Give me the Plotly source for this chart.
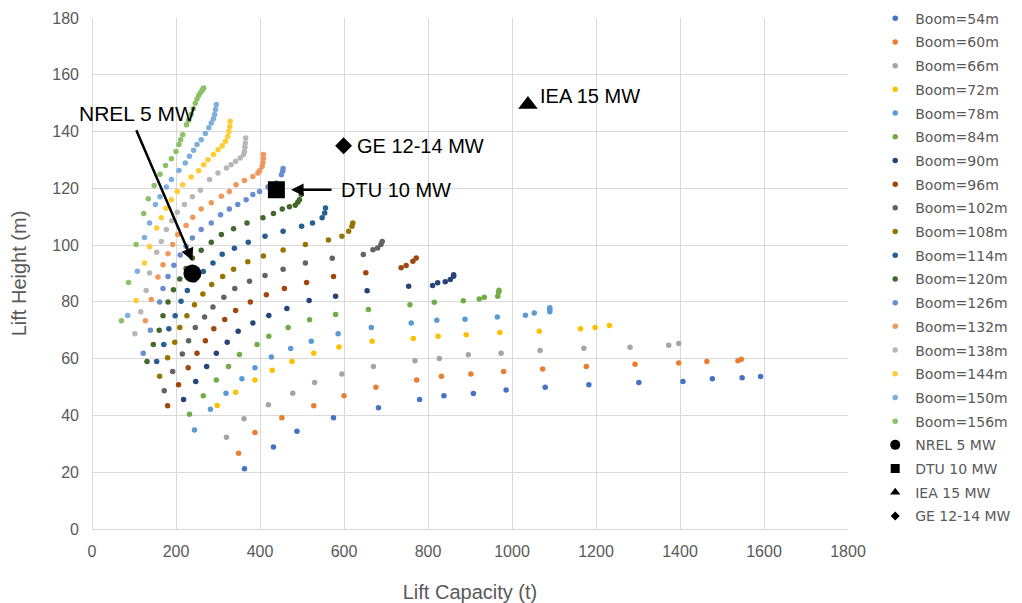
import plotly.graph_objects as go

booms = [54, 60, 66, 72, 78, 84, 90, 96, 102, 108, 114, 120, 126, 132, 138, 144, 150, 156]
colors = ["#4472C4", "#ED7D31", "#A5A5A5", "#FFC000", "#5B9BD5", "#70AD47",
          "#264478", "#9E480E", "#636363", "#997300", "#255E91", "#43682B",
          "#698ED0", "#F1975A", "#B7B7B7", "#FFCD33", "#7CAFDD", "#8CC168"]

cap_54 = [363, 432, 488, 575, 682, 780, 838, 908, 986, 1079, 1183, 1302, 1407, 1477, 1548, 1592]
hgt_54 = [21.2, 28.9, 34.4, 39.2, 42.7, 45.6, 46.9, 47.7, 49.0, 49.9, 50.8, 51.6, 52.0, 52.9, 53.3, 53.7]

cap_60 = [349, 388, 452, 528, 600, 676, 773, 832, 902, 980, 1073, 1177, 1293, 1397, 1464, 1538, 1546]
hgt_60 = [26.7, 34.0, 39.2, 43.4, 46.9, 49.9, 52.5, 53.8, 54.6, 55.5, 56.4, 57.2, 58.0, 58.5, 59.0, 59.3, 59.8]

cap_66 = [320, 362, 420, 478, 530, 595, 670, 769, 827, 896, 974, 1067, 1171, 1281, 1373, 1397]
hgt_66 = [32.3, 38.8, 43.8, 47.8, 51.6, 54.6, 57.2, 59.3, 60.1, 61.4, 61.9, 62.9, 63.7, 64.0, 64.7, 65.3]

cap_72 = [298, 342, 388, 429, 476, 528, 588, 667, 765, 824, 891, 971, 1065, 1163, 1198, 1232]
hgt_72 = [43.5, 48.2, 52.5, 55.9, 59.0, 61.9, 64.1, 66.1, 67.1, 67.9, 68.4, 69.2, 69.7, 70.5, 71.0, 71.7]

cap_78 = [244, 282, 319, 357, 388, 427, 473, 522, 586, 665, 760, 821, 888, 965, 1032, 1053, 1090, 1090, 1090]
hgt_78 = [34.9, 42.2, 47.8, 52.9, 56.8, 60.6, 63.6, 66.1, 68.8, 71.0, 72.6, 73.5, 73.9, 74.7, 75.3, 76.1, 76.5, 77.2, 77.9]

cap_84 = [232, 265, 296, 325, 351, 393, 421, 467, 518, 580, 658, 757, 815, 884, 922, 934, 966, 968, 969]
hgt_84 = [40.4, 46.9, 52.5, 57.2, 61.5, 65.0, 67.9, 71.0, 73.7, 75.6, 77.3, 79.0, 79.9, 80.4, 81.0, 81.6, 82.0, 83.4, 84.1]

cap_90 = [218, 247, 273, 296, 322, 348, 383, 421, 464, 517, 580, 655, 754, 811, 823, 841, 853, 861, 861]
hgt_90 = [45.6, 52.0, 57.2, 61.9, 65.8, 69.7, 72.6, 75.2, 77.7, 80.5, 82.0, 83.9, 85.5, 85.8, 86.7, 87.1, 87.9, 89.0, 89.6]

cap_96 = [180, 206, 229, 250, 270, 290, 316, 342, 377, 415, 458, 511, 575, 652, 736, 748, 764, 772]
hgt_96 = [43.4, 50.8, 56.8, 61.9, 66.3, 70.5, 73.8, 77.0, 80.0, 82.5, 84.7, 86.8, 88.9, 90.3, 92.0, 92.8, 94.3, 95.5]

cap_102 = [172, 192, 215, 230, 246, 268, 288, 314, 340, 375, 412, 455, 508, 572, 646, 669, 680, 688, 691]
hgt_102 = [48.7, 55.5, 61.6, 66.3, 71.0, 74.7, 78.2, 81.6, 84.7, 87.3, 89.3, 91.5, 93.7, 95.4, 96.7, 98.4, 99.0, 100.2, 101.3]

cap_108 = [161, 180, 197, 209, 226, 244, 264, 285, 311, 337, 371, 408, 455, 508, 563, 595, 611, 619, 621]
hgt_108 = [53.8, 60.3, 65.8, 71.0, 75.1, 79.0, 82.8, 86.1, 88.9, 91.5, 94.1, 96.2, 98.3, 100.2, 101.8, 103.1, 104.9, 106.6, 107.8]

cap_114 = [154, 171, 183, 198, 212, 227, 244, 265, 288, 310, 339, 372, 412, 455, 499, 525, 548, 554, 556]
hgt_114 = [59.0, 65.0, 70.5, 75.1, 80.2, 84.0, 87.7, 90.7, 93.7, 96.8, 98.9, 101.0, 103.1, 104.9, 106.6, 107.8, 109.6, 111.3, 113.1]

cap_120 = [131, 146, 160, 169, 181, 194, 209, 224, 239, 260, 284, 308, 337, 369, 407, 432, 453, 470, 484, 490, 494, 498]
hgt_120 = [59.0, 65.0, 70.0, 75.1, 80.0, 84.3, 88.1, 91.8, 95.5, 98.2, 101.0, 103.7, 105.8, 107.8, 109.6, 111.1, 112.7, 113.5, 114.0, 115.1, 116.0, 117.8]

cap_126 = [122, 139, 161, 169, 181, 195, 210, 224, 239, 260, 284, 306, 327, 347, 367, 383, 399, 419, 439, 451, 454, 455]
hgt_126 = [61.9, 70.0, 80.0, 84.7, 88.9, 92.9, 96.5, 99.6, 102.5, 105.5, 107.8, 110.7, 112.7, 114.3, 116.0, 117.8, 118.9, 120.5, 121.9, 124.8, 126.0, 127.0]

cap_132 = [127, 141, 157, 169, 181, 192, 204, 224, 240, 260, 284, 308, 327, 343, 363, 383, 395, 399, 405, 407, 408, 408]
hgt_132 = [73.4, 80.8, 88.8, 93.1, 97.0, 100.2, 103.7, 106.9, 109.8, 112.7, 114.9, 117.2, 118.9, 121.3, 122.8, 124.2, 125.4, 126.2, 127.7, 129.0, 130.5, 131.9]

cap_138 = [102, 116, 129, 137, 154, 165, 177, 190, 203, 220, 239, 258, 280, 300, 320, 331, 342, 353, 361, 363, 364, 365, 366]
hgt_138 = [68.8, 76.5, 84.0, 90.2, 97.5, 101.3, 105.5, 108.6, 111.6, 114.3, 117.0, 119.3, 123.1, 125.4, 127.2, 128.3, 129.5, 130.7, 131.9, 133.0, 134.5, 136.0, 137.7]

cap_144 = [105, 125, 137, 154, 165, 176, 189, 203, 216, 236, 254, 266, 276, 289, 300, 310, 318, 323, 326, 328, 329]
hgt_144 = [80.5, 93.7, 99.4, 106.0, 109.6, 113.0, 116.0, 118.9, 121.3, 124.0, 126.2, 128.3, 130.1, 131.9, 133.6, 135.0, 136.6, 138.3, 140.0, 141.8, 143.6]

cap_150 = [85, 108, 125, 137, 151, 162, 177, 189, 207, 222, 232, 242, 250, 260, 270, 278, 284, 289, 292, 294, 296]
hgt_150 = [75.2, 90.8, 102.7, 107.8, 114.3, 117.0, 120.5, 123.1, 126.3, 128.9, 131.3, 133.4, 135.4, 137.1, 139.3, 141.3, 143.0, 144.5, 146.0, 147.8, 149.5]

cap_156 = [70, 87, 105, 123, 134, 148, 162, 175, 189, 200, 207, 211, 216, 225, 230, 236, 241, 246, 250, 254, 258, 262, 264, 266]
hgt_156 = [73.4, 86.8, 100.2, 111.1, 116.3, 121.0, 125.0, 128.0, 130.4, 133.0, 135.4, 137.1, 138.9, 142.4, 144.0, 146.0, 148.0, 150.0, 151.5, 152.7, 153.7, 154.5, 155.0, 155.3]

turbine_names = ["NREL 5 MW", "DTU 10 MW", "IEA 15 MW", "GE 12-14 MW"]
turbine_cap = [239, 439, 1038, 599]
turbine_hgt = [90, 119.5, 149.5, 135]
turbine_symbols = ["circle", "square", "triangle-up", "diamond"]

x_ticks = [0, 200, 400, 600, 800, 1000, 1200, 1400, 1600, 1800]
y_ticks = [0, 20, 40, 60, 80, 100, 120, 140, 160, 180]

series_cap = [cap_54, cap_60, cap_66, cap_72, cap_78, cap_84, cap_90, cap_96, cap_102,
              cap_108, cap_114, cap_120, cap_126, cap_132, cap_138, cap_144, cap_150, cap_156]
series_hgt = [hgt_54, hgt_60, hgt_66, hgt_72, hgt_78, hgt_84, hgt_90, hgt_96, hgt_102,
              hgt_108, hgt_114, hgt_120, hgt_126, hgt_132, hgt_138, hgt_144, hgt_150, hgt_156]

FONT = "Liberation Sans"
LEG_FONT = "DejaVu Sans"
GREY = "#595959"

fig = go.Figure()
for i, (b, c) in enumerate(zip(booms, colors)):
    fig.add_trace(go.Scatter(
        x=series_cap[i], y=series_hgt[i], mode="markers", name=f"Boom={b}m",
        legendgroup=f"g{i}",
        marker=dict(color=c, size=5.5, line=dict(width=0)),
    ))

marker_sizes = [18, 17, 17, 13]
legend_sizes = [10, 9, 9, 7]
for j, name in enumerate(turbine_names):
    fig.add_trace(go.Scatter(
        x=[turbine_cap[j]], y=[turbine_hgt[j]], mode="markers", name=name,
        showlegend=False,
        marker=dict(color="black", size=marker_sizes[j], symbol=turbine_symbols[j]),
    ))
    fig.add_trace(go.Scatter(
        x=[None], y=[None], mode="markers", name=name, legendgroup=f"t{j}",
        marker=dict(color="black", size=legend_sizes[j], symbol=turbine_symbols[j]),
    ))

ann_font = dict(family=FONT, size=20, color="black")
# NREL label and arrow
fig.add_annotation(x=108, y=146.5, text="NREL 5 MW", showarrow=False,
                   font=dict(family=FONT, size=21, color="black"),
                   xanchor="center", yanchor="middle")
fig.add_annotation(x=239, y=94.5, ax=104, ay=141, xref="x", yref="y", axref="x", ayref="y",
                   text="", showarrow=True, arrowhead=2, arrowsize=1, arrowwidth=2.5,
                   arrowcolor="black")
# DTU label and arrow
fig.add_annotation(x=588, y=119.5, text="DTU 10 MW", showarrow=False, font=ann_font,
                   xanchor="left", yanchor="middle")
fig.add_annotation(x=474, y=119.5, ax=574, ay=119.5, xref="x", yref="y", axref="x", ayref="y",
                   text="", showarrow=True, arrowhead=2, arrowsize=1, arrowwidth=2.5,
                   arrowcolor="black")
# GE and IEA labels
fig.add_annotation(x=626, y=135, text="GE 12-14 MW", showarrow=False, font=ann_font,
                   xanchor="left", yanchor="middle")
fig.add_annotation(x=1062, y=152.5, text="IEA 15 MW", showarrow=False, font=ann_font,
                   xanchor="left", yanchor="middle")

axis_common = dict(
    showgrid=True, gridcolor="#D9D9D9", gridwidth=1,
    zeroline=True, zerolinecolor="#D9D9D9", zerolinewidth=1,
    showline=False, ticks="", automargin=False,
    tickfont=dict(family=FONT, size=16, color=GREY),
)
fig.update_xaxes(range=[0, 1800], tickvals=x_ticks, ticktext=[str(v) for v in x_ticks],
                 ticklabelstandoff=11,
                 title=dict(text="Lift Capacity (t)", font=dict(family=FONT, size=20, color=GREY),
                            standoff=30),
                 **axis_common)
fig.update_yaxes(range=[0, 180], tickvals=y_ticks, ticktext=[str(v) for v in y_ticks],
                 ticklabelstandoff=12,
                 title=dict(text="Lift Height (m)", font=dict(family=FONT, size=20, color=GREY),
                            standoff=28),
                 **axis_common)

fig.update_layout(
    width=1014, height=595,
    margin=dict(l=84, r=174, t=10, b=74, autoexpand=False),
    plot_bgcolor="white", paper_bgcolor="white",
    legend=dict(x=1.036, y=1.03, xanchor="left", yanchor="top",
                font=dict(family=LEG_FONT, size=14, color=GREY),
                traceorder="grouped", tracegroupgap=2.5, maxheight=600,
                itemwidth=30, bgcolor="rgba(0,0,0,0)"),
    showlegend=True,
)

fig.write_html("out.html")
